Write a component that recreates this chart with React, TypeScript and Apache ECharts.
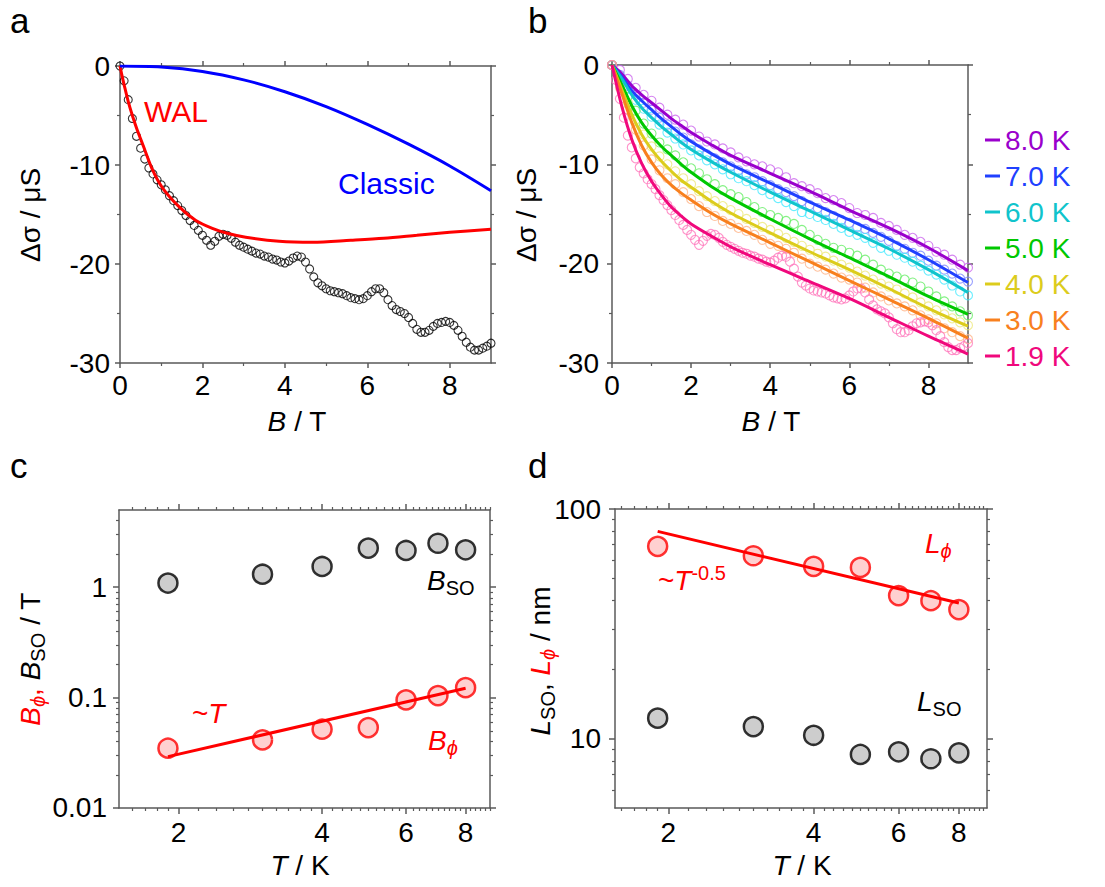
import React, { useEffect, useRef } from "react";
import * as echarts from "echarts";

const FONT = "'Liberation Sans', Arial, Helvetica, sans-serif";
const AXIS_COLOR = "#5a5a5a";
const RED = "#ff0000";

// ---------------- Panel a : 1.9 K magnetoconductance ----------------
const fieldA = [0,0.1,0.2,0.3,0.4,0.5,0.6,0.7,0.8,0.9,1,1.1,1.2,1.3,1.4,1.5,1.6,1.7,1.8,1.9,2,2.1,2.2,2.3,2.4,2.5,2.6,2.7,2.8,2.9,3,3.1,3.2,3.3,3.4,3.5,3.6,3.7,3.8,3.9,4,4.1,4.2,4.3,4.4,4.5,4.6,4.7,4.8,4.9,5,5.1,5.2,5.3,5.4,5.5,5.6,5.7,5.8,5.9,6,6.1,6.2,6.3,6.4,6.5,6.6,6.7,6.8,6.9,7,7.1,7.2,7.3,7.4,7.5,7.6,7.7,7.8,7.9,8,8.1,8.2,8.3,8.4,8.5,8.6,8.7,8.8,8.9,9];
const sigmaA = [0,-1.5,-3.4,-5.3,-7.1,-8.3,-9.4,-10.3,-10.9,-11.5,
  -12.0,-12.5,-13.1,-13.6,-14.1,-14.6,-15.1,-15.6,-16.1,-16.6,
  -17.1,-17.6,-18.1,-17.7,-17.2,-17.0,-17.1,-17.4,-17.8,-18.1,
  -18.3,-18.5,-18.7,-18.9,-19.0,-19.2,-19.3,-19.5,-19.6,-19.8,
  -19.9,-19.7,-19.4,-19.2,-19.3,-19.8,-20.5,-21.3,-21.9,-22.2,
  -22.5,-22.7,-22.8,-22.9,-23.0,-23.2,-23.4,-23.5,-23.6,-23.5,
  -23.2,-22.8,-22.5,-22.5,-22.9,-23.6,-24.2,-24.6,-24.8,-25.0,
  -25.4,-26.0,-26.6,-26.9,-26.9,-26.7,-26.3,-26.0,-25.9,-25.8,
  -25.9,-26.2,-26.7,-27.3,-27.9,-28.4,-28.7,-28.7,-28.5,-28.3,
  -28.0];
const walField = [0,0.05,0.1,0.2,0.3,0.42,0.55,0.79,1.03,1.43,1.84,2.24,2.6,3.05,3.86,4.67,5.6,6.4,7.2,8.0,9.0];
const walSigma = [0,-1.0,-1.9,-3.6,-5.0,-6.5,-7.9,-10.5,-12.3,-14.2,-15.6,-16.4,-16.9,-17.3,-17.7,-17.8,-17.6,-17.4,-17.1,-16.8,-16.5];
const classicField = [0,1,2,3,4,5,6,7,8,9];
const classicSigma = [0,-0.1,-0.55,-1.4,-2.6,-4.1,-5.9,-7.9,-10.1,-12.6];

// ---------------- Panel b : temperature series ----------------
const tempLabels = ["8.0 K","7.0 K","6.0 K","5.0 K","4.0 K","3.0 K","1.9 K"];
const lineColors = ["#9a00cc","#2040ff","#10c4cc","#00c800","#dccc1c","#f8801e","#f0087c"];
const dotColors = ["#cc66ee","#8088ff","#44eaff","#66ee66","#eee87a","#ffb488","#ff77bb"];
const fieldB = [0,0.2,0.4,0.6,0.8,1,1.2,1.4,1.6,1.8,2,2.2,2.4,2.6,2.8,3,3.2,3.4,3.6,3.8,4,4.2,4.4,4.6,4.8,5,5.2,5.4,5.6,5.8,6,6.2,6.4,6.6,6.8,7,7.2,7.4,7.6,7.8,8,8.2,8.4,8.6,8.8,9];
const data80 = [0,-0.5,-1.4,-2.3,-3.0,-3.6,-4.3,-5.0,-5.5,-6.0,-6.6,-7.2,-7.7,-8.0,-8.4,-8.8,-9.3,-9.7,-10.0,-10.2,-10.5,-10.8,-11.3,-11.9,-12.2,-12.5,-12.9,-13.4,-13.6,-13.9,-14.4,-14.9,-15.1,-15.4,-15.9,-16.2,-16.6,-17.1,-17.4,-17.8,-18.2,-18.8,-19.1,-19.6,-20.1,-20.4];
const data70 = [0,-1.0,-2.1,-3.0,-3.8,-4.5,-5.3,-6.0,-6.7,-7.3,-8.0,-8.5,-9.0,-9.4,-9.8,-10.2,-10.6,-11.0,-11.3,-11.7,-12.1,-12.5,-12.8,-13.2,-13.7,-14.1,-14.4,-14.8,-15.2,-15.6,-15.9,-16.3,-16.5,-16.9,-17.3,-17.7,-18.2,-18.5,-18.9,-19.2,-19.7,-20.2,-20.6,-21.0,-21.5,-21.8];
const data60 = [0,-1.2,-2.4,-3.5,-4.4,-5.2,-6.0,-6.8,-7.4,-8.0,-8.6,-9.1,-9.6,-10.0,-10.5,-11.0,-11.4,-11.7,-12.1,-12.6,-13.0,-13.4,-13.8,-14.2,-14.8,-15.0,-15.3,-15.6,-16.0,-16.4,-16.8,-17.1,-17.4,-17.9,-18.4,-18.7,-19.1,-19.4,-19.8,-20.2,-20.7,-21.1,-21.6,-22.2,-22.8,-23.2];
const data50 = [0,-1.5,-3.2,-4.6,-5.9,-6.9,-7.8,-8.5,-9.1,-9.8,-10.4,-10.9,-11.5,-12.0,-12.6,-13.0,-13.3,-13.8,-14.3,-14.8,-15.1,-15.4,-15.7,-16.0,-16.6,-17.1,-17.6,-18.0,-18.4,-18.6,-18.9,-19.2,-19.6,-20.1,-20.6,-21.0,-21.3,-21.6,-21.9,-22.3,-22.8,-23.3,-23.8,-24.3,-24.8,-25.2];
const data40 = [0,-1.9,-3.8,-5.5,-7.0,-8.2,-9.2,-10.0,-10.7,-11.4,-12.0,-12.7,-13.2,-13.7,-14.2,-14.6,-15.0,-15.5,-15.9,-16.3,-16.6,-17.0,-17.4,-17.8,-18.2,-18.6,-19.0,-19.3,-19.7,-20.1,-20.4,-20.8,-21.2,-21.6,-22.0,-22.3,-22.6,-23.0,-23.4,-23.9,-24.3,-24.7,-25.1,-25.5,-25.9,-26.2];
const data30 = [0,-2.3,-4.5,-6.5,-8.1,-9.5,-10.6,-11.4,-12.0,-12.8,-13.5,-14.2,-14.8,-15.2,-15.7,-16.0,-16.4,-16.7,-17.1,-17.6,-18.0,-18.2,-18.5,-18.9,-19.5,-20.0,-20.3,-20.6,-21.0,-21.4,-21.6,-21.9,-22.4,-22.9,-23.3,-23.7,-24.0,-24.3,-24.7,-25.2,-25.6,-26.0,-26.5,-26.9,-27.3,-27.6];
// 1.9 K data are the same measurement as panel a (fieldA / sigmaA)
const fitField = [0,0.25,0.5,0.75,1,1.25,1.5,1.75,2,2.5,3,4,5,6,7,8,9];
const fit80 = [0,-0.9,-2.1,-3.0,-3.8,-4.6,-5.4,-6.1,-6.8,-8.0,-9.1,-10.9,-12.7,-14.6,-16.4,-18.4,-20.7];
const fit70 = [0,-1.2,-2.6,-3.6,-4.5,-5.4,-6.2,-7.0,-7.7,-8.9,-10.0,-11.9,-13.8,-15.6,-17.5,-19.6,-21.9];
const fit60 = [0,-1.4,-3.0,-4.3,-5.3,-6.2,-7.0,-7.8,-8.5,-9.7,-10.8,-12.8,-14.7,-16.6,-18.5,-20.6,-22.9];
const fit50 = [0,-2.0,-4.1,-5.8,-7.1,-8.2,-9.1,-10.0,-10.8,-12.2,-13.4,-15.5,-17.5,-19.4,-21.3,-23.3,-25.1];
const fit40 = [0,-2.5,-5.0,-7.0,-8.5,-9.7,-10.7,-11.6,-12.3,-13.7,-14.9,-16.9,-18.8,-20.6,-22.5,-24.5,-26.3];
const fit30 = [0,-2.9,-5.8,-8.1,-9.8,-11.1,-12.1,-12.9,-13.6,-14.9,-16.0,-17.9,-19.8,-21.7,-23.6,-25.5,-27.5];
const fit19 = [0,-4.2,-7.5,-9.9,-11.7,-13.1,-14.3,-15.2,-16.0,-17.2,-18.3,-20.1,-21.8,-23.5,-25.4,-27.3,-29.1];

// ---------------- Panels c & d ----------------
const tempT = [1.9,3,4,5,6,7,8];
const bSO = [1.09,1.31,1.54,2.26,2.15,2.5,2.18];
const bPhi = [0.0348,0.0414,0.0517,0.0535,0.0953,0.1042,0.123];
const bPhiFitT = [1.9,8];
const bPhiFit = [0.0292,0.1216];
const lPhi = [68.8,62.6,56.3,55.7,42.0,39.9,36.5];
const lSO = [12.3,11.3,10.36,8.55,8.78,8.19,8.69];
const lPhiFitT = [1.9,8];
const lPhiFit = [79.9,39.0];

// tick values
const linXMajor = [0,2,4,6,8];
const linXMinor = [1,3,5,7];
const linYMajor = [0,-10,-20,-30];
const linYMinor = [-5,-15,-25];
const logXMajor = [2,4,6,8];
const logXMinor = [1.6,1.7,1.8,1.9,2.2,2.4,2.6,2.8,3,3.2,3.4,3.6,3.8,4.2,4.4,4.6,4.8,5,5.2,5.4,5.6,5.8,6.2,6.4,6.6,6.8,7,7.2,7.4,7.6,7.8,8.2,8.4,8.6,8.8,9];
const cYMajor = [0.01,0.1,1];
const cYMinor = [0.02,0.03,0.04,0.05,0.06,0.07,0.08,0.09,0.2,0.3,0.4,0.5,0.6,0.7,0.8,0.9,2,3,4];
const dYMajor = [10,100];
const dYMinor = [6,7,8,9,20,30,40,50,60,70,80,90];

const pairs = (xs: number[], ys: number[]) => xs.map((x, i) => [x, ys[i]]);
const fmt = (v: number) => String(parseFloat(Number(v).toPrecision(6)));

interface AxisSpec {
  type: "value" | "log";
  min: number; max: number;
  major: number[]; minor: number[];
  majorLen: number; minorLen: number; margin: number;
}

function sideAxes(dim: "x" | "y", grid: number, s: AxisSpec) {
  const positions = dim === "x" ? ["bottom", "top"] : ["left", "right"];
  const out: any[] = [];
  positions.forEach((pos, pi) => {
    const common: any = {
      type: s.type, gridIndex: grid, position: pos, min: s.min, max: s.max,
      splitLine: { show: false }, minorTick: { show: false }, minorSplitLine: { show: false },
      silent: true, axisPointer: { show: false },
    };
    if (s.type === "log") common.logBase = 10;
    out.push({
      ...common,
      axisLine: { show: true, onZero: false, lineStyle: { color: AXIS_COLOR, width: 1.5 } },
      axisTick: { show: true, inside: false, length: s.majorLen, customValues: s.major, lineStyle: { color: AXIS_COLOR, width: 1.5 } },
      axisLabel: pi === 0
        ? { show: true, customValues: s.major, margin: s.margin, fontSize: 28, fontFamily: FONT, color: "#000", formatter: (v: number) => fmt(v) }
        : { show: false },
    });
    out.push({
      ...common,
      axisLine: { show: false, onZero: false },
      axisTick: { show: true, inside: false, length: s.minorLen, customValues: s.minor, lineStyle: { color: AXIS_COLOR, width: 1.2 } },
      axisLabel: { show: false },
    });
  });
  return out;
}

function richStyles(size: number) {
  const sub = Math.round(size * 0.7);
  return {
    n: { fontSize: size, fontFamily: FONT, fill: "#000" },
    i: { fontSize: size, fontFamily: FONT, fill: "#000", fontStyle: "italic" },
    s: { fontSize: sub, fontFamily: FONT, fill: "#000", padding: [16, 0, 0, 0] },
    rn: { fontSize: size, fontFamily: FONT, fill: RED },
    ri: { fontSize: size, fontFamily: FONT, fill: RED, fontStyle: "italic" },
    rs: { fontSize: sub, fontFamily: FONT, fill: RED, fontStyle: "italic", padding: [16, 0, 0, 0] },
    rp: { fontSize: sub, fontFamily: FONT, fill: RED, padding: [0, 0, 14, 0] },
  };
}

function label(x: number, y: number, text: string, size: number, opts: { align?: string; rotation?: number; color?: string } = {}) {
  return {
    type: "text", x, y, rotation: opts.rotation ?? 0, silent: true,
    style: {
      text, rich: richStyles(size), fontSize: size, fontFamily: FONT,
      fill: opts.color ?? "#000", textAlign: opts.align ?? "left", textVerticalAlign: "middle",
    },
  };
}

function buildOption() {
  const specsX: AxisSpec[] = [
    { type: "value", min: 0, max: 9, major: linXMajor, minor: linXMinor, majorLen: 5, minorLen: 3, margin: 8 },
    { type: "value", min: 0, max: 9, major: linXMajor, minor: linXMinor, majorLen: 5, minorLen: 3, margin: 8 },
    { type: "log", min: 1.5, max: 9, major: logXMajor, minor: logXMinor, majorLen: 6, minorLen: 3, margin: 10 },
    { type: "log", min: 1.55, max: 9.15, major: logXMajor, minor: logXMinor, majorLen: 6, minorLen: 3, margin: 10 },
  ];
  const specsY: AxisSpec[] = [
    { type: "value", min: -30, max: 0, major: linYMajor, minor: linYMinor, majorLen: 5, minorLen: 3, margin: 10 },
    { type: "value", min: -30, max: 0, major: linYMajor, minor: linYMinor, majorLen: 5, minorLen: 3, margin: 13 },
    { type: "log", min: 0.0099999, max: 5, major: cYMajor, minor: cYMinor, majorLen: 6, minorLen: 3, margin: 12 },
    { type: "log", min: 5, max: 100.001, major: dYMajor, minor: dYMinor, majorLen: 6, minorLen: 3, margin: 14 },
  ];
  const xAxis: any[] = [];
  const yAxis: any[] = [];
  specsX.forEach((s, g) => xAxis.push(...sideAxes("x", g, s)));
  specsY.forEach((s, g) => yAxis.push(...sideAxes("y", g, s)));
  const ax = (g: number) => ({ xAxisIndex: g * 4, yAxisIndex: g * 4 });

  const hollow = (color: string, size: number) => ({
    type: "scatter", symbol: "circle", symbolSize: size, silent: true, z: 2,
    itemStyle: { color: "rgba(255,255,255,0)", borderColor: color, borderWidth: 1.1 },
  });
  const fitLine = (name: string, color: string, xs: number[], ys: number[], g: number, width = 3) => ({
    type: "line", name, ...ax(g), data: pairs(xs, ys), smooth: 0.3,
    showSymbol: false, symbol: "none", silent: true, z: 4,
    itemStyle: { color }, lineStyle: { color, width },
  });

  const bData = [data80, data70, data60, data50, data40, data30];
  const bFits = [fit80, fit70, fit60, fit50, fit40, fit30, fit19];

  const series: any[] = [];
  // panel a
  series.push({ ...hollow("#000", 8), name: "data a", ...ax(0), data: pairs(fieldA, sigmaA) });
  series.push(fitLine("WAL", RED, walField, walSigma, 0));
  series.push(fitLine("Classic", "#0000ff", classicField, classicSigma, 0));
  // panel b scatter
  bData.forEach((d, i) => {
    series.push({ ...hollow(dotColors[i], 9), name: tempLabels[i] + " data", ...ax(1), data: pairs(fieldB, d) });
  });
  series.push({ ...hollow(dotColors[6], 9), name: tempLabels[6] + " data", ...ax(1), data: pairs(fieldA, sigmaA) });
  // panel b fits
  bFits.forEach((f, i) => series.push(fitLine(tempLabels[i], lineColors[i], fitField, f, 1)));
  // panel c
  series.push({ type: "scatter", name: "B_SO", ...ax(2), data: pairs(tempT, bSO), symbolSize: 19, silent: true, z: 3,
    itemStyle: { color: "#c0c0c0", borderColor: "#000", borderWidth: 2.5 } });
  series.push({ type: "scatter", name: "B_phi", ...ax(2), data: pairs(tempT, bPhi), symbolSize: 19, silent: true, z: 3,
    itemStyle: { color: "#ffc4c4", borderColor: RED, borderWidth: 2.5 } });
  series.push({ type: "line", name: "~T", ...ax(2), data: pairs(bPhiFitT, bPhiFit), showSymbol: false, symbol: "none", silent: true, z: 4,
    itemStyle: { color: RED }, lineStyle: { color: RED, width: 3 } });
  // panel d
  series.push({ type: "scatter", name: "L_SO", ...ax(3), data: pairs(tempT, lSO), symbolSize: 19, silent: true, z: 3,
    itemStyle: { color: "#c0c0c0", borderColor: "#000", borderWidth: 2.5 } });
  series.push({ type: "scatter", name: "L_phi", ...ax(3), data: pairs(tempT, lPhi), symbolSize: 19, silent: true, z: 3,
    itemStyle: { color: "#ffc4c4", borderColor: RED, borderWidth: 2.5 } });
  series.push({ type: "line", name: "~T^-0.5", ...ax(3), data: pairs(lPhiFitT, lPhiFit), showSymbol: false, symbol: "none", silent: true, z: 4,
    itemStyle: { color: RED }, lineStyle: { color: RED, width: 3 } });

  const rot = Math.PI / 2;
  const graphic = [
    label(10, 20, "a", 35),
    label(528, 20, "b", 35),
    label(10, 465, "c", 35),
    label(528, 465, "d", 35),
    // axis titles
    label(30, 215, "Δσ / μS", 28, { align: "center", rotation: rot }),
    label(526, 215, "Δσ / μS", 28, { align: "center", rotation: rot }),
    label(297, 421, "{i|B}{n| / T}", 28, { align: "center" }),
    label(771, 421, "{i|B}{n| / T}", 28, { align: "center" }),
    label(300, 865, "{i|T}{n| / K}", 28, { align: "center" }),
    label(802, 865, "{i|T}{n| / K}", 28, { align: "center" }),
    label(30, 659, "{ri|B}{rs|ϕ}{rn|, }{i|B}{s|SO}{n| / T}", 28, { align: "center", rotation: rot }),
    label(540, 661, "{i|L}{s|SO}{n|, }{ri|L}{rs|ϕ}{n| / nm}", 28, { align: "center", rotation: rot }),
    // annotations
    label(144, 111, "WAL", 30, { color: RED }),
    label(338, 183, "Classic", 30, { color: "#0000ff" }),
    label(427, 580, "{i|B}{s|SO}", 28),
    label(192, 713, "{rn|~}{ri|T}", 28),
    label(428, 740, "{ri|B}{rs|ϕ}", 28),
    label(925, 543, "{ri|L}{rs|ϕ}", 28),
    label(658, 580, "{rn|~}{ri|T}{rp|-0.5}", 28),
    label(917, 701, "{i|L}{s|SO}", 28),
  ];

  return {
    animation: false,
    backgroundColor: "#ffffff",
    textStyle: { fontFamily: FONT },
    grid: [
      { left: 120, top: 66, width: 371, height: 297 },
      { left: 612, top: 65, width: 356, height: 298 },
      { left: 119, top: 510, width: 371, height: 298 },
      { left: 615, top: 509, width: 372, height: 299 },
    ],
    xAxis, yAxis, series, graphic,
    legend: {
      orient: "vertical", left: 985, top: 126, padding: 0,
      itemWidth: 15, itemHeight: 3, itemGap: 8, icon: "rect", selectedMode: false,
      textStyle: { fontSize: 28, fontFamily: FONT },
      data: tempLabels.map((n, i) => ({ name: n, textStyle: { color: lineColors[i] } })),
    },
  };
}

export default function App() {
  const ref = useRef<HTMLDivElement>(null);
  useEffect(() => {
    if (!ref.current) return;
    const chart = echarts.init(ref.current, undefined, { renderer: "svg" });
    chart.setOption(buildOption() as any);
    return () => chart.dispose();
  }, []);
  return (
    <div
      ref={ref}
      style={{ position: "absolute", left: 0, top: 0, width: 1105, height: 887, background: "#fff" }}
    />
  );
}
